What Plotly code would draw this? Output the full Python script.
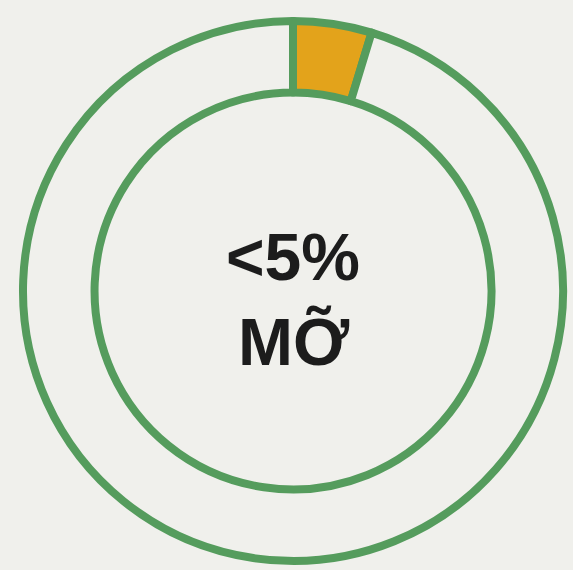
import plotly.graph_objects as go

labels = ["Mỡ", "Khác"]
values = [4.7, 95.3]
colors = ["#E3A31B", "#F0F0EC"]
center_lines = ["<5%", "MỠ"]

BG = "#F0F0EC"
GREEN = "#559C5D"

fig = go.Figure(go.Pie(
    labels=labels,
    values=values,
    hole=0.735,
    sort=False,
    direction="clockwise",
    rotation=0,
    marker=dict(colors=colors, line=dict(color=GREEN, width=8)),
    textinfo="none",
    hoverinfo="label+percent",
    showlegend=False,
    domain=dict(x=[23/573, 563/573], y=[9/570, 549/570]),
))

fig.add_annotation(x=293/573, y=1-257/570, xref="paper", yref="paper",
                   text="<b>%s</b>" % center_lines[0].replace("<", "&lt;"), showarrow=False,
                   font=dict(family="Liberation Sans, Arial, sans-serif", size=66, color="#1C1C1C"),
                   xanchor="center", yanchor="middle")
fig.add_annotation(x=294/573, y=1-342/570, xref="paper", yref="paper",
                   text="<b>%s</b>" % center_lines[1], showarrow=False,
                   font=dict(family="Liberation Sans, Arial, sans-serif", size=66, color="#1C1C1C"),
                   xanchor="center", yanchor="middle")

fig.update_layout(
    width=573, height=570,
    margin=dict(l=0, r=0, t=0, b=0),
    paper_bgcolor=BG, plot_bgcolor=BG,
)

fig.write_html("out.html", config={"displayModeBar": False},
               post_script="document.body.style.margin='0';document.body.style.background='#F0F0EC';")
